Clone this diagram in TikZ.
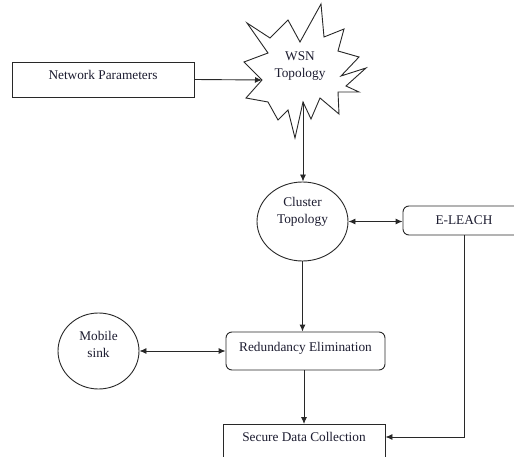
\documentclass[tikz,border=0pt]{standalone}
\usepackage{fontspec}
\setmainfont{Liberation Serif}
\usetikzlibrary{arrows.meta,shapes.geometric}
\definecolor{txt}{RGB}{28,28,48}
\definecolor{ln}{RGB}{40,40,40}
\begin{document}
\begin{tikzpicture}[x=1pt,y=-1pt,
  every node/.style={font=\fontsize{13.3}{17}\selectfont, text=txt},
  sq/.style={draw=ln, line width=0.9pt, inner sep=0pt},
  rnd/.style={sq, rounded corners=6pt},
  ell/.style={sq, ellipse},
  conn/.style={draw=ln, line width=0.9pt, -{Latex[length=7pt,width=6pt]}},
  dbl/.style={draw=ln, line width=0.9pt, {Latex[length=7pt,width=6pt]}-{Latex[length=7pt,width=6pt]}},
]
\clip (0,0) rectangle (514,457);
\fill[white] (0,0) rectangle (514,457);

% Network Parameters
\node[sq, minimum width=182pt, minimum height=35pt, text depth=9pt] (np) at (103,79.5) {Network Parameters};

% WSN Topology star
\draw[ln, line width=0.9pt, fill=white]
  (321,4) -- (324,37) -- (344,29) -- (338,51) -- (359,57) -- (341,76) -- (366,68)
  -- (346,86) -- (359,92) -- (338,92) -- (339,114) -- (320,98) -- (311,119)
  -- (303,102) -- (295,138) -- (288,110) -- (278,120) -- (268,102) -- (246,98)
  -- (262,80) -- (244,62) -- (268,53) -- (247,23) -- (270,38) -- (288,20)
  -- (300,42) -- cycle;
\node[align=center] (wsn) at (300,66) {WSN\\Topology};
\coordinate (wsnin) at (262,80);
\coordinate (wsnout) at (303,102);

% Cluster Topology
\node[ell, minimum width=91pt, minimum height=79pt] (ct) at (302.5,221.5) {};
\node[align=center] (ctt) at (302.5,211.5) {Cluster\\Topology};

% E-LEACH
\node[rnd, minimum width=122pt, minimum height=29pt] (el) at (464,220.5) {E-LEACH};

% Mobile sink
\node[ell, minimum width=81pt, minimum height=76pt] (ms) at (98.5,351) {};
\node[align=center] (mst) at (98.5,344) {Mobile\\sink};

% Redundancy Elimination
\node[rnd, minimum width=159pt, minimum height=38pt, text depth=8pt] (red) at (305.5,351) {Redundancy Elimination};

% Secure Data Collection
\node[sq, minimum width=162pt, minimum height=44pt, anchor=north] (sdc) at (304,424) {};
\node (sdct) at (304,437) {Secure Data Collection};

% connectors
\draw[conn] (np.east) -- (wsnin);
\draw[conn] (wsnout) -- (wsnout |- ct.north);
\draw[dbl] (ct.east) -- (ct.east -| el.west);
\draw[conn] (ct.south) -- (ct.south |- red.north);
\draw[dbl] (ms.east) -- (ms.east -| red.west);
\draw[conn] (red.south -| sdc.north) -- (sdc.north);
\draw[conn] (el.south) |- (sdc.east |- sdct);
\end{tikzpicture}
\end{document}
